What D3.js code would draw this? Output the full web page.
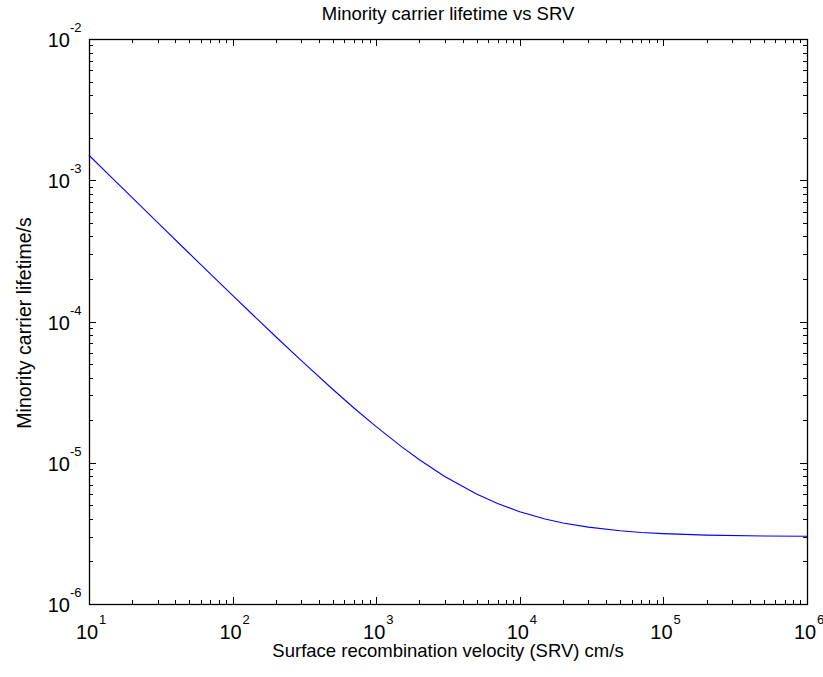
<!DOCTYPE html>
<html>
<head>
  <meta charset="utf-8">
  <script src="https://d3js.org/d3.v7.min.js"></script>
  <style>
    body { margin: 0; background: #fff; }
    text { font-family: "Liberation Sans", Arial, sans-serif; fill: #000; }
  </style>
</head>
<body>
<script>
// surface recombination velocity (cm/s) and effective lifetime (s)
var srv = [10, 15, 20, 30, 50, 70, 100, 150, 200, 300, 500, 700, 1000, 1500, 2000,
           3000, 5000, 7000, 1e4, 1.5e4, 2e4, 3e4, 5e4, 7e4, 1e5, 2e5, 5e5, 1e6];
var lifetime = [1.503e-3, 1.003e-3, 7.53e-4, 5.03e-4, 3.03e-4, 2.17e-4, 1.53e-4, 1.03e-4,
                7.8e-5, 5.3e-5, 3.3e-5, 2.44e-5, 1.8e-5, 1.3e-5, 1.05e-5, 8.0e-6, 6.0e-6,
                5.14e-6, 4.5e-6, 4.0e-6, 3.75e-6, 3.5e-6, 3.3e-6, 3.21e-6, 3.15e-6,
                3.075e-6, 3.03e-6, 3.015e-6];
var xExponents = [1, 2, 3, 4, 5, 6];
var yExponents = [-6, -5, -4, -3, -2];

function draw() {
    var W = 823, H = 677;
    // plot box edges
    var pl = 89, pr = 807, pt = 39, pb = 604;

    var svg = d3.select("body").append("svg")
        .attr("width", W)
        .attr("height", H);

    var x = d3.scaleLog().domain([1e1, 1e6]).range([pl, pr]);
    var y = d3.scaleLog().domain([1e-6, 1e-2]).range([pb, pt]);

    // tick positions: majors plus 2..9 minors in each decade
    function logTicks(exps) {
        var out = [];
        for (var i = 0; i < exps.length; i++) {
            var base = Math.pow(10, exps[i]);
            out.push({v: base, major: true});
            if (i < exps.length - 1) {
                for (var m = 2; m <= 9; m++) out.push({v: base * m, major: false});
            }
        }
        return out;
    }
    var xt = logTicks(xExponents);
    var yt = logTicks(yExponents);

    // curve
    var line = d3.line()
        .x(function(d, i) { return x(srv[i]); })
        .y(function(d) { return y(d); });
    svg.append("path")
        .datum(lifetime)
        .attr("d", line)
        .attr("fill", "none")
        .attr("stroke", "#0000ff")
        .attr("stroke-width", 1.1);

    // ticks on all four sides, pointing inward
    var tk = svg.append("g").attr("stroke", "#000").attr("stroke-width", 1);
    xt.forEach(function(t) {
        var px = Math.round(x(t.v)) + 0.5, len = t.major ? 7 : 4;
        tk.append("line").attr("x1", px).attr("x2", px).attr("y1", pb).attr("y2", pb - len);
        tk.append("line").attr("x1", px).attr("x2", px).attr("y1", pt).attr("y2", pt + len);
    });
    yt.forEach(function(t) {
        var py = Math.round(y(t.v)) + 0.5, len = t.major ? 7 : 4;
        tk.append("line").attr("y1", py).attr("y2", py).attr("x1", pl).attr("x2", pl + len);
        tk.append("line").attr("y1", py).attr("y2", py).attr("x1", pr).attr("x2", pr - len);
    });

    // box
    svg.append("rect")
        .attr("x", pl + 0.5).attr("y", pt + 0.5)
        .attr("width", pr - pl).attr("height", pb - pt)
        .attr("fill", "none").attr("stroke", "#000").attr("stroke-width", 1.3);

    // tick labels (10 with superscript exponent)
    xExponents.forEach(function(e) {
        var px = x(Math.pow(10, e));
        svg.append("text").attr("x", px - 2).attr("y", 639)
            .attr("text-anchor", "middle").style("font-size", "20px").text("10");
        svg.append("text").attr("x", px + 10).attr("y", 624)
            .style("font-size", "13px").text(e);
    });
    yExponents.forEach(function(e) {
        var py = y(Math.pow(10, e));
        svg.append("text").attr("x", 70).attr("y", py + 8)
            .attr("text-anchor", "end").style("font-size", "20px").text("10");
        svg.append("text").attr("x", 70).attr("y", py - 7)
            .style("font-size", "13px").text(e);
    });

    // title and axis labels
    svg.append("text")
        .attr("x", (pl + pr) / 2).attr("y", 20)
        .attr("text-anchor", "middle").style("font-size", "18.5px")
        .text("Minority carrier lifetime vs SRV");

    svg.append("text")
        .attr("x", (pl + pr) / 2).attr("y", 657)
        .attr("text-anchor", "middle").style("font-size", "18.5px")
        .text("Surface recombination velocity (SRV) cm/s");

    svg.append("text")
        .attr("transform", "translate(31,323) rotate(-90)")
        .attr("text-anchor", "middle").style("font-size", "19.5px")
        .text("Minority carrier lifetime/s");
}

draw();
</script>
</body>
</html>
